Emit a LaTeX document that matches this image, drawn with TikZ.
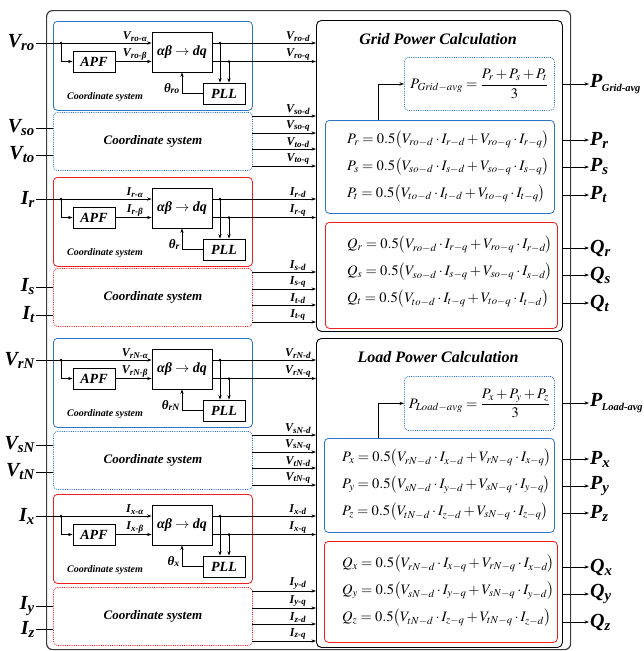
\documentclass[tikz,border=0pt]{standalone}
\usepackage{amsmath}
\usepackage{mathptmx}
\usepackage{fontspec}
\setmainfont{Liberation Serif}
\usetikzlibrary{arrows.meta}
\definecolor{cblue}{RGB}{46,117,200}
\definecolor{cred}{RGB}{240,30,30}
\definecolor{cgray}{RGB}{60,60,60}
\newcommand{\lb}[3]{{\fontsize{#1}{#1}\selectfont\bfseries\itshape #2\textsubscript{#3}}}
\newcommand{\lbavg}[1]{{\fontsize{20}{20}\selectfont\bfseries\itshape P\kern-0.5pt\raisebox{-4pt}{\fontsize{10.5}{10.5}\selectfont #1}}}
\tikzset{
  ln/.style={line width=0.7pt, draw=black},
  arr/.style={ln, -{Stealth[length=4.5pt,width=3.2pt]}},
  blk/.style={rounded corners=4pt, line width=0.8pt, inner sep=0pt},
  fn/.style={draw, line width=0.8pt, inner sep=0pt, font=\fontsize{14}{14}\selectfont\bfseries\itshape},
  jdot/.style={circle, fill, inner sep=0pt, minimum size=3pt},
  sl/.style={inner sep=1pt},
  fm/.style={inner sep=0pt, font=\fontsize{14.5}{17}\selectfont},
  ttl/.style={inner sep=0pt, font=\fontsize{16}{16}\selectfont\bfseries\itshape},
  cbox/.style={draw, line width=0.9pt, rounded corners=5pt, inner sep=0pt},
}
\newcommand{\fullblock}[7]{%
\begin{scope}[shift={(0,#1)}]
\node[blk, draw=#2, minimum width=199, minimum height=89, anchor=north west] (#3box) at (53,0) {};
\node[anchor=east, inner sep=1pt] (#3in) at (36,22) {\lb{20}{#4}{#5}};
\node[fn, minimum width=42, minimum height=21] (#3apf) at (94,40.5) {APF};
\node[fn, minimum width=60, minimum height=40] (#3ab) at (182,31) {αβ $\boldsymbol{\rightarrow}$ dq};
\node[fn, minimum width=42, minimum height=21] (#3pll) at (224,72.5) {PLL};
\node[anchor=base east, inner sep=1pt] (#3th) at (181,71) {\lb{13}{θ}{#7}};
\node[inner sep=0pt, font=\fontsize{10}{10}\selectfont\bfseries\itshape] (#3cs) at (105,76) {Coordinate system};
\coordinate (#3j1) at (61,22);
\coordinate (#3j2) at (220,22);
\coordinate (#3j3) at (229,40.5);
\draw[arr] (#3in.east) -- (#3in.east -| #3ab.west);
\draw[arr] (#3j1) |- (#3apf.west);
\draw[arr] (#3apf.east) -- (#3apf.east -| #3ab.west);
\draw[arr] (#3ab.east |- #3j2) -- (#3j2 -| #6.west);
\draw[arr] (#3ab.east |- #3j3) -- (#3j3 -| #6.west);
\draw[arr] (#3j2) -- (#3j2 |- #3pll.north);
\draw[arr] (#3j3) -- (#3j3 |- #3pll.north);
\draw[arr] (#3pll.west) -| (#3ab.south);
\node[jdot] (#3d1) at (#3j1) {};
\node[jdot] (#3d2) at (#3j2) {};
\node[jdot] (#3d3) at (#3j3) {};
\node[sl, anchor=south] (#3la) at (135,22) {\lb{12}{#4}{#5-α}};
\node[sl, anchor=south] (#3lb) at (135,40.5) {\lb{12}{#4}{#5-β}};
\node[sl, anchor=south] (#3ld) at (298,22) {\lb{12}{#4}{#5-d}};
\node[sl, anchor=south] (#3lq) at (298,40.5) {\lb{12}{#4}{#5-q}};
\end{scope}}
\newcommand{\dotblock}[9]{%
\begin{scope}[shift={(0,#1)}]
\node[blk, densely dotted, draw=#2, minimum width=199, minimum height=58, anchor=north west, font=\fontsize{13}{13}\selectfont\bfseries\itshape] (#3box) at (53,0) {Coordinate system};
\node[anchor=east, inner sep=1pt] (#3ia) at (36,#7) {\lb{20}{#4}{#5}};
\node[anchor=east, inner sep=1pt] (#3ib) at (36,#8) {\lb{20}{#4}{#6}};
\draw[ln] (#3ia.east) -- (#3ia.east -| #3box.west);
\draw[ln] (#3ib.east) -- (#3ib.east -| #3box.west);
\foreach \yy/\qsub [count=\kk] in {4/#5-d, 21/#5-q, 37/#6-d, 54/#6-q} {
  \coordinate (#3o\kk) at (252,\yy);
  \draw[arr] (#3o\kk) -- (#3o\kk -| #9.west);
  \node[sl, anchor=south] (#3l\kk) at (298,\yy) {\lb{12}{#4}{\qsub}};
}
\end{scope}}
\begin{document}
\begin{tikzpicture}[x=1pt,y=-1pt]
\useasboundingbox (0,0) rectangle (644,651);
\node[draw=cgray, line width=1.2pt, rounded corners=6pt, minimum width=524, minimum height=639, anchor=north west, inner sep=0pt] (outer) at (46,10) {};
% ---------- Grid power calculation ----------
\node[cbox, minimum width=246, minimum height=311, anchor=north west] (grid) at (316,20) {};
\node[ttl] (gtitle) at (438,39) {Grid Power Calculation};
\node[blk, densely dotted, draw=cblue, minimum width=150, minimum height=53, anchor=north west] (gavg) at (404,57) {};
\node[fm] (gavgf) at (gavg.center) {$P_{Grid-avg}=\dfrac{P_r+P_s+P_t}{3}$};
\node[blk, draw=cblue, minimum width=229, minimum height=93, anchor=north west] (gp) at (325,120) {};
\node[blk, draw=cred, minimum width=232, minimum height=106, anchor=north west] (gq) at (325,222) {};
\node[fm, anchor=west] (gp1) at (347,139.5) {$P_r = 0.5\bigl(V_{ro-d}\cdot I_{r-d} + V_{ro-q}\cdot I_{r-q}\bigr)$};
\node[fm, anchor=west] (gp2) at (347,166.5) {$P_s = 0.5\bigl(V_{so-d}\cdot I_{s-d} + V_{so-q}\cdot I_{s-q}\bigr)$};
\node[fm, anchor=west] (gp3) at (347,193.5) {$P_t = 0.5\bigl(V_{to-d}\cdot I_{t-d} + V_{to-q}\cdot I_{t-q}\bigr)$};
\node[fm, anchor=west] (gq1) at (347,245) {$Q_r = 0.5\bigl(V_{ro-d}\cdot I_{r-q} + V_{ro-q}\cdot I_{r-d}\bigr)$};
\node[fm, anchor=west] (gq2) at (347,272) {$Q_s = 0.5\bigl(V_{so-d}\cdot I_{s-q} + V_{so-q}\cdot I_{s-d}\bigr)$};
\node[fm, anchor=west] (gq3) at (347,299) {$Q_t = 0.5\bigl(V_{to-d}\cdot I_{t-q} + V_{to-q}\cdot I_{t-d}\bigr)$};
\draw[arr] ([xshift=53pt]gp.north west) |- (gavg.west);
\node[anchor=west, inner sep=1pt] (oGa) at (589,84) {\lbavg{Grid-avg}};
\node[anchor=west, inner sep=1pt] (oPr) at (589,140) {\lb{20}{P}{r}};
\node[anchor=west, inner sep=1pt] (oPs) at (589,167) {\lb{20}{P}{s}};
\node[anchor=west, inner sep=1pt] (oPt) at (589,195) {\lb{20}{P}{t}};
\node[anchor=west, inner sep=1pt] (oQr) at (589,248) {\lb{20}{Q}{r}};
\node[anchor=west, inner sep=1pt] (oQs) at (589,275) {\lb{20}{Q}{s}};
\node[anchor=west, inner sep=1pt] (oQt) at (589,303) {\lb{20}{Q}{t}};
\foreach \o in {oGa,oPr,oPs,oPt,oQr,oQs,oQt} \draw[arr] (grid.east |- \o.west) -- (\o.west);
% ---------- Load power calculation ----------
\node[cbox, minimum width=246, minimum height=309, anchor=north west] (load) at (316,338) {};
\node[ttl] (ltitle) at (438,357) {Load Power Calculation};
\node[blk, densely dotted, draw=cblue, minimum width=150, minimum height=54, anchor=north west] (lavg) at (404,376) {};
\node[fm] (lavgf) at (lavg.center) {$P_{Load-avg}=\dfrac{P_x+P_y+P_z}{3}$};
\node[blk, draw=cblue, minimum width=230, minimum height=94, anchor=north west] (lp) at (324,438) {};
\node[blk, draw=cred, minimum width=233, minimum height=101, anchor=north west] (lq) at (324,541) {};
\node[fm, anchor=west] (lp1) at (342,458) {$P_x = 0.5\bigl(V_{rN-d}\cdot I_{x-d} + V_{rN-q}\cdot I_{x-q}\bigr)$};
\node[fm, anchor=west] (lp2) at (342,485) {$P_y = 0.5\bigl(V_{sN-d}\cdot I_{y-d} + V_{sN-q}\cdot I_{y-q}\bigr)$};
\node[fm, anchor=west] (lp3) at (342,512) {$P_z = 0.5\bigl(V_{tN-d}\cdot I_{z-d} + V_{sN-q}\cdot I_{z-q}\bigr)$};
\node[fm, anchor=west] (lq1) at (342,564) {$Q_x = 0.5\bigl(V_{rN-d}\cdot I_{x-q} + V_{rN-q}\cdot I_{x-d}\bigr)$};
\node[fm, anchor=west] (lq2) at (342,591) {$Q_y = 0.5\bigl(V_{sN-d}\cdot I_{y-q} + V_{sN-q}\cdot I_{y-d}\bigr)$};
\node[fm, anchor=west] (lq3) at (342,618) {$Q_z = 0.5\bigl(V_{tN-d}\cdot I_{z-q} + V_{tN-q}\cdot I_{z-d}\bigr)$};
\draw[arr] ([xshift=54pt]lp.north west) |- (lavg.west);
\node[anchor=west, inner sep=1pt] (oLa) at (589,403) {\lbavg{Load-avg}};
\node[anchor=west, inner sep=1pt] (oPx) at (589,459) {\lb{20}{P}{x}};
\node[anchor=west, inner sep=1pt] (oPy) at (589,486) {\lb{20}{P}{y}};
\node[anchor=west, inner sep=1pt] (oPz) at (589,513) {\lb{20}{P}{z}};
\node[anchor=west, inner sep=1pt] (oQx) at (589,567) {\lb{20}{Q}{x}};
\node[anchor=west, inner sep=1pt] (oQy) at (589,594) {\lb{20}{Q}{y}};
\node[anchor=west, inner sep=1pt] (oQz) at (589,622) {\lb{20}{Q}{z}};
\foreach \o in {oLa,oPx,oPy,oPz,oQx,oQy,oQz} \draw[arr] (load.east |- \o.west) -- (\o.west);
% ---------- Left blocks ----------
\fullblock{21}{cblue}{b1}{V}{ro}{grid}{ro}
\dotblock{112}{cblue}{b2}{V}{so}{to}{16}{43}{grid}
\fullblock{177}{cred}{b3}{I}{r}{grid}{r}
\dotblock{268}{cred}{b4}{I}{s}{t}{19}{47}{grid}
\fullblock{338}{cblue}{b5}{V}{rN}{load}{rN}
\dotblock{431}{cblue}{b6}{V}{sN}{tN}{14}{41}{load}
\fullblock{494}{cred}{b7}{I}{x}{load}{x}
\dotblock{587}{cred}{b8}{I}{y}{z}{19}{42}{load}
\end{tikzpicture}
\end{document}
